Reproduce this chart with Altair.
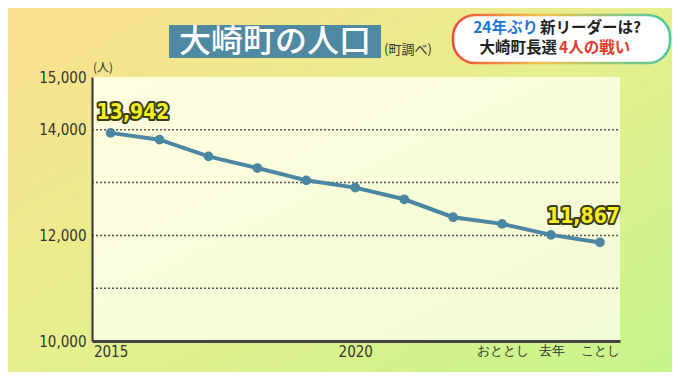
import altair as alt
import pandas as pd

# ---- data ----
years = [2015, 2016, 2017, 2018, 2019, 2020, 2021, 2022, 2023, 2024, 2025]
population = [13942, 13813, 13497, 13276, 13043, 12905, 12684, 12344, 12218, 12010, 11867]
tick_years = [2015, 2020, 2023, 2024, 2025]
tick_labels = ["2015", "2020", "おととし", "去年", "ことし"]
y_label_values = [10000, 12000, 14000, 15000]
grid_values = [11000, 12000, 13000, 14000]
first_label = "13,942"
last_label = "11,867"
title_text = "大崎町の人口"
source_text = "(町調べ)"
unit_text = "(人)"
badge_line1 = ["24年ぶり", "新リーダーは?"]
badge_line2 = ["大崎町長選", "4人の戦い"]

# ---- layout ----
W, H = 528, 264
PL, PT, PR, PB = 84, 69, 52, 31
NUM_FONT = "DejaVu Sans Condensed, DejaVu Sans"
JP_FONT = "Noto Sans CJK JP"
LINE_COLOR = "#4b87a2"

df = pd.DataFrame({"year": years, "pop": population})
grid_df = pd.DataFrame({"v": grid_values})
one = pd.DataFrame({"k": [0]})

xscale = alt.Scale(domain=[2014.62, 2025.41], nice=False, zero=False)
yscale = alt.Scale(domain=[10000, 15000], nice=False, zero=False)

label_expr = " : ".join(
    f"datum.value == {y} ? '{t}'" for y, t in zip(tick_years, tick_labels)
) + " : ''"

xaxis = alt.Axis(
    values=tick_years, labelExpr=label_expr, title=None, grid=False, ticks=False,
    domainColor="#444", domainWidth=3, labelColor="#333", labelFont=NUM_FONT,
    labelFontSize=alt.condition("datum.value >= 2023", alt.value(12.5), alt.value(15)),
    labelPadding=3, labelAngle=0, labelBaseline="top", labelFlush=False, zindex=1,
)
yaxis = alt.Axis(
    values=y_label_values, labelExpr="format(datum.value, ',d')", title=None,
    grid=False, ticks=False,
    domainColor="#333", domainWidth=2, labelColor="#333", labelFont=NUM_FONT,
    labelFontSize=15, labelPadding=6, labelFlush=False, zindex=1,
)

bg_grad = alt.Gradient(
    gradient="linear", x1=0, y1=0, x2=1, y2=1,
    stops=[alt.GradientStop(color="#fbdf8e", offset=0),
           alt.GradientStop(color="#e6ef8e", offset=0.5),
           alt.GradientStop(color="#c6f58b", offset=1)],
)
panel_grad = alt.Gradient(
    gradient="linear", x1=0, y1=0, x2=1, y2=1,
    stops=[alt.GradientStop(color="#fffee0", offset=0),
           alt.GradientStop(color="#f1fbd3", offset=1)],
)
badge_grad = alt.Gradient(
    gradient="linear", x1=0, y1=0, x2=1, y2=0,
    stops=[alt.GradientStop(color="#ee4a3a", offset=0),
           alt.GradientStop(color="#f2c24a", offset=0.4),
           alt.GradientStop(color="#4cc7a0", offset=1)],
)

bg = alt.Chart(one).mark_rect(color=bg_grad).encode(
    x=alt.value(-PL), x2=alt.value(W + PR), y=alt.value(-PT), y2=alt.value(H + PB))
panel = alt.Chart(one).mark_rect(color=panel_grad).encode(
    x=alt.value(0), x2=alt.value(W), y=alt.value(0), y2=alt.value(H))

Y = lambda f: alt.Y(f, scale=yscale, axis=yaxis)
X = lambda f: alt.X(f, scale=xscale, axis=xaxis)

grid = alt.Chart(grid_df).mark_rule(color="#555", strokeDash=[2, 2], strokeWidth=1.5).encode(
    y=Y("v:Q"), x=alt.value(0), x2=alt.value(W))

base = alt.Chart(df).encode(x=X("year:Q"), y=Y("pop:Q"))
line = base.mark_line(color=LINE_COLOR, strokeWidth=4)
points = base.mark_circle(color=LINE_COLOR, size=95, opacity=1)


def value_label(year, pop, text, align, dx, dy):
    d = pd.DataFrame({"year": [year], "pop": [pop], "t": [text]})
    enc = dict(x=X("year:Q"), y=Y("pop:Q"), text="t:N")
    common = dict(align=align, baseline="middle", dx=dx, dy=dy, font=NUM_FONT,
                  fontSize=21, fontWeight="bold")
    outline = alt.Chart(d).mark_text(stroke="#3a3a10", strokeWidth=4, fill="#3a3a10",
                                     strokeJoin="round", **common).encode(**enc)
    fill = alt.Chart(d).mark_text(fill="#f6ef1f", **common).encode(**enc)
    return outline + fill


lab1 = value_label(years[0], population[0], first_label, "left", -14, -20)
lab2 = value_label(years[-1], population[-1], last_label, "right", 20, -25)


def txt(text, x, y, **kw):
    return alt.Chart(one).mark_text(text=text, **kw).encode(x=alt.value(x), y=alt.value(y))


unit = txt(unit_text, 11, -9, font=JP_FONT, fontSize=12, color="#333", baseline="middle")

title_box = alt.Chart(one).mark_rect(color="#4f89a2").encode(
    x=alt.value(77), x2=alt.value(289), y=alt.value(-52), y2=alt.value(-19))
title = txt(title_text, 183, -35, font=JP_FONT, fontSize=32, fontWeight=500,
            color="white", baseline="middle")
source = txt(source_text, 316, -27, font=JP_FONT, fontSize=13, color="#333",
             baseline="middle")

badge = alt.Chart(one).mark_rect(fill="white", stroke=badge_grad, strokeWidth=2.5,
                                 cornerRadius=22).encode(
    x=alt.value(361), x2=alt.value(578), y=alt.value(-62), y2=alt.value(-14))
BF = 15.5
b1a = txt(badge_line1[0], 446, -49, font=JP_FONT, fontSize=BF, fontWeight="bold",
          color="#1f78d6", align="right", baseline="middle")
b1b = txt(badge_line1[1], 448, -49, font=JP_FONT, fontSize=BF, fontWeight="bold",
          color="#222", align="left", baseline="middle")
b2a = txt(badge_line2[0], 465, -29, font=JP_FONT, fontSize=BF, fontWeight="bold",
          color="#222", align="right", baseline="middle")
b2b = txt(badge_line2[1], 467, -29, font=JP_FONT, fontSize=BF, fontWeight="bold",
          color="#e53a2c", align="left", baseline="middle")

chart = alt.layer(
    bg, panel, grid, line, points, lab1, lab2, unit,
    title_box, title, source, badge, b1a, b1b, b2a, b2b,
).properties(
    width=W, height=H,
    autosize=alt.AutoSizeParams(type="none"),
    padding={"left": PL, "top": PT, "right": PR, "bottom": PB},
    background="#e6ef8e",
).configure_view(strokeWidth=0)

chart.save("out.html", embed_options={"renderer": "svg", "actions": False})
